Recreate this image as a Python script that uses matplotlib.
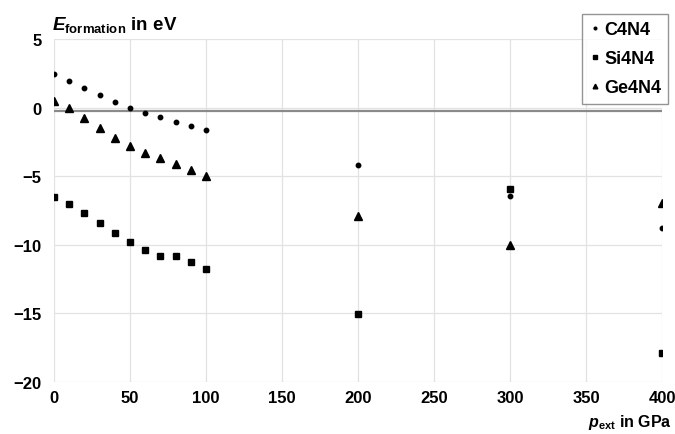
import numpy as np
import matplotlib
matplotlib.use('Agg')
import matplotlib.pyplot as plt

plt.rcParams['font.family'] = ['Liberation Sans', 'DejaVu Sans']
plt.rcParams['font.weight'] = 'bold'
plt.rcParams['mathtext.fontset'] = 'custom'
plt.rcParams['mathtext.rm'] = 'Liberation Sans:bold'
plt.rcParams['mathtext.bf'] = 'Liberation Sans:bold'
plt.rcParams['mathtext.it'] = 'Liberation Sans:italic:bold'

# external pressure in GPa
pressure = [0, 10, 20, 30, 40, 50, 60, 70, 80, 90, 100, 200, 300, 400]

# formation energies in eV
e_c4n4 = [2.48, 1.97, 1.41, 0.90, 0.44, 0.0, -0.36, -0.68, -1.05, -1.34, -1.66,
          -4.18, -6.47, -8.78]
e_si4n4 = [-6.54, -7.03, -7.71, -8.42, -9.12, -9.80, -10.36, -10.83, -10.80, -11.26, -11.73,
           -15.04, -5.94, -17.88]
e_ge4n4 = [0.46, -0.02, -0.75, -1.48, -2.21, -2.82, -3.28, -3.70, -4.14, -4.55, -4.96,
           -7.90, -9.98, -6.96]

zero_line = -0.27

fig = plt.figure(figsize=(6.75, 4.35), dpi=100)
ax = fig.add_axes([0.08, 0.1195, 0.901, 0.7885])

ax.plot(pressure, e_c4n4, 'o', color='black', markersize=3.2, linestyle='none', label='C4N4')
ax.plot(pressure, e_si4n4, 's', color='black', markersize=4.6, linestyle='none', label='Si4N4')
ax.plot(pressure, e_ge4n4, '^', color='black', markersize=5.6, linestyle='none', label='Ge4N4')

ax.axhline(zero_line, color='#8a8a8a', linewidth=1.6, zorder=1)

ax.set_xlim(0, 400)
ax.set_ylim(-20, 5)
ax.set_xticks(np.arange(0, 401, 50))
ax.set_yticks(np.arange(-20, 6, 5))
ax.grid(True, color='#e2e2e2', linewidth=0.9)
ax.set_axisbelow(True)
for s in ax.spines.values():
    s.set_visible(False)
ax.tick_params(length=0, labelsize=12)
ax.tick_params(axis='y', pad=9)
ax.tick_params(axis='x', pad=6)
for lab in ax.get_xticklabels() + ax.get_yticklabels():
    lab.set_fontweight('bold')

fig.text(0.077, 0.942, r'$\mathit{E}_{\mathrm{formation}}$ in eV', fontsize=13.5,
         fontweight='bold', va='center', ha='left')
fig.text(0.995, 0.028, r'$\mathit{p}_{\mathrm{ext}}$ in GPa', fontsize=11.5,
         fontweight='bold', va='center', ha='right')

leg = ax.legend(loc='upper right', bbox_to_anchor=(0.99, 0.9655),
                bbox_transform=fig.transFigure, frameon=True, fancybox=False,
                prop={'weight': 'bold', 'size': 13}, markerscale=0.6,
                handlelength=0.6, handletextpad=0.2, borderpad=0.4,
                labelspacing=0.67, borderaxespad=0)
leg.get_frame().set_edgecolor('#7a7a7a')
leg.get_frame().set_linewidth(1.0)

fig.savefig('out.png', dpi=100)
